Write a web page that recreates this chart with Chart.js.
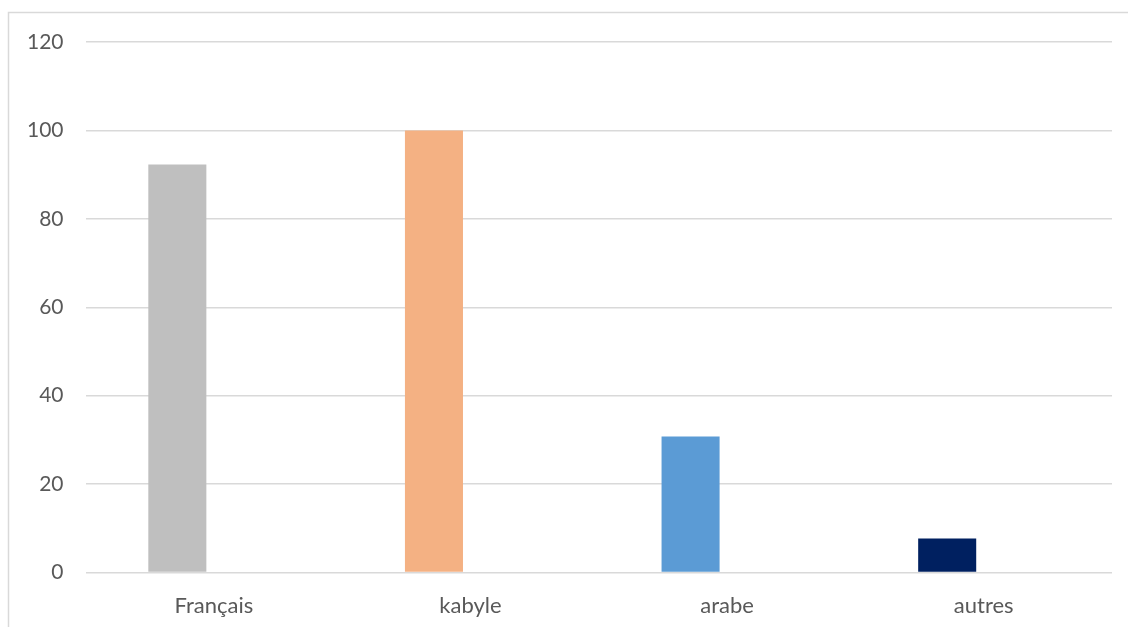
<html>

<head>
    <title>Langues</title>
    <meta name="viewport" content="width=device-width, initial-scale=1">
    <script src="https://cdn.jsdelivr.net/npm/chart.js"></script>
    <style>
        body {
            margin: 0;
            background: #ffffff;
        }

        .canvas-container {
            width: 1128px;
            height: 627px;
        }
    </style>
</head>

<body>
    <div class="canvas-container">
        <canvas id="languesChart" width="1128" height="627"></canvas>
    </div>
</body>
<script>
    const langues = ['Français', 'kabyle', 'arabe', 'autres']
    const pourcentages = [92.3, 100, 30.8, 7.7]
    // second series is empty, it only reserves the right half of each group
    const vide = [null, null, null, null]
    const couleurs = ['#BFBFBF', '#F4B183', '#5B9BD5', '#002060']

    const gridColor = '#D9D9D9'
    const textColor = '#595959'

    // thin frame around the chart (only top and left edges fall inside the page)
    const framePlugin = {
        id: 'frame',
        beforeDraw(chart) {
            const ctx = chart.ctx
            ctx.save()
            ctx.strokeStyle = '#D9D9D9'
            ctx.lineWidth = 1.5
            ctx.beginPath()
            ctx.moveTo(8.5, chart.height + 2)
            ctx.lineTo(8.5, 12.5)
            ctx.lineTo(chart.width + 2, 12.5)
            ctx.stroke()
            ctx.restore()
        }
    }

    const ctx = document.getElementById('languesChart').getContext('2d')
    const languesChart = new Chart(ctx, {
        type: 'bar',
        data: {
            labels: langues,
            datasets: [{
                label: 'langues',
                data: pourcentages,
                backgroundColor: couleurs,
                borderWidth: 0
            }, {
                label: 'vide',
                data: vide,
                borderWidth: 0
            }]
        },
        options: {
            responsive: false,
            animation: false,
            categoryPercentage: 0.569,
            barPercentage: 0.795,
            layout: {
                padding: { left: 5, right: 16, top: 42, bottom: -4 }
            },
            plugins: {
                legend: { display: false },
                tooltip: { enabled: false }
            },
            scales: {
                x: {
                    grid: { display: false },
                    border: { display: false },
                    ticks: {
                        color: textColor,
                        padding: 12,
                        font: { family: 'Lato', size: 22 }
                    }
                },
                y: {
                    min: 0,
                    max: 120,
                    ticks: {
                        stepSize: 20,
                        color: textColor,
                        padding: 22,
                        font: { family: 'Lato', size: 21 }
                    },
                    grid: {
                        color: gridColor,
                        lineWidth: 1.5,
                        drawTicks: false
                    },
                    border: { display: false }
                }
            }
        },
        plugins: [framePlugin]
    })
</script>
</html>
